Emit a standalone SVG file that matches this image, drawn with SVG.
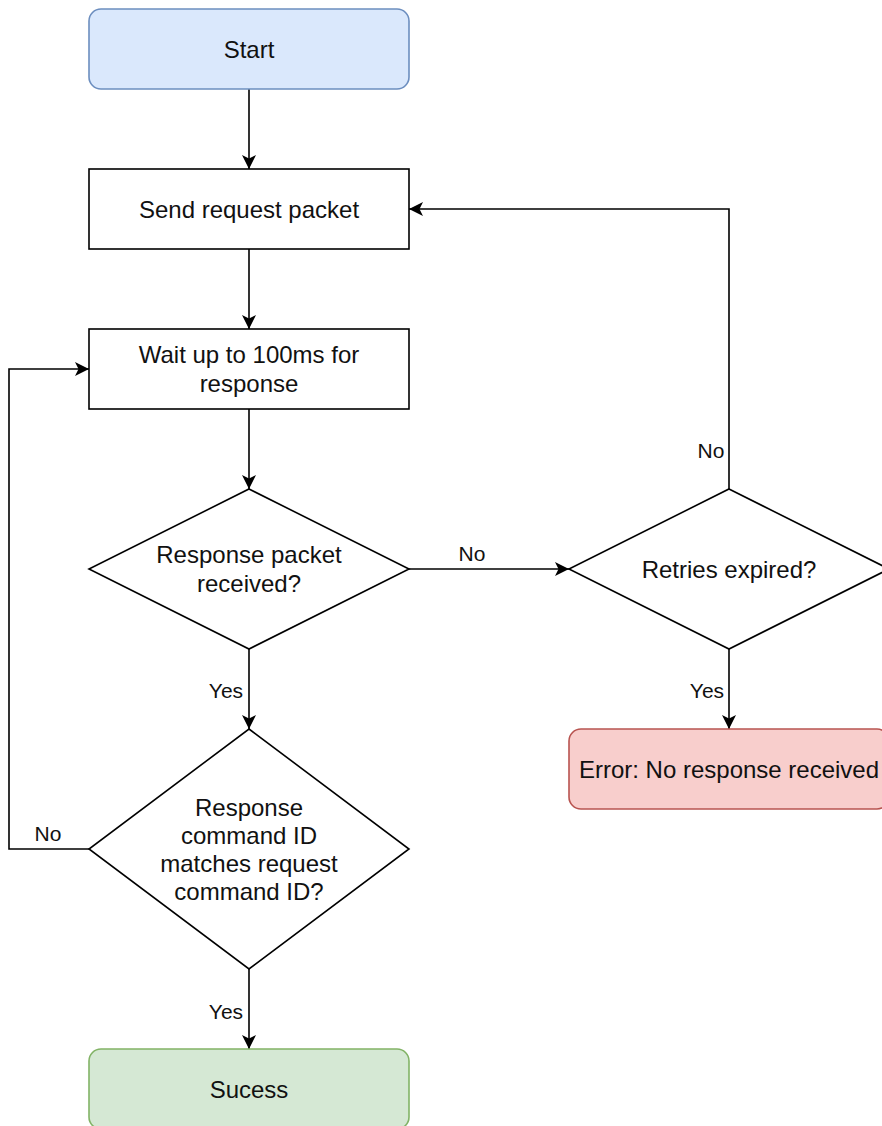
<svg xmlns="http://www.w3.org/2000/svg" width="882" height="1126" viewBox="0 0 882 1126">
<style>
.box{fill:#ffffff;stroke:#000;stroke-width:1.6}
.start{fill:#dae8fc;stroke:#6c8ebf;stroke-width:1.6}
.err{fill:#f8cecc;stroke:#b85450;stroke-width:1.6}
.ok{fill:#d5e8d4;stroke:#82b366;stroke-width:1.6}
.t{font-family:"Liberation Sans",Arial,sans-serif;font-size:24px;fill:#111;text-anchor:middle}
.lbl{font-family:"Liberation Sans",Arial,sans-serif;font-size:21px;fill:#111;text-anchor:middle}
.edge{fill:none;stroke:#000;stroke-width:1.6;marker-end:url(#arrow)}
</style>
<defs>
<marker id="arrow" markerUnits="userSpaceOnUse" markerWidth="16" markerHeight="16" viewBox="0 0 16 16" refX="15" refY="8" orient="auto">
<path d="M1,1 L15,8 L1,15 L4.5,8 Z" fill="#000"/>
</marker>
</defs>
<rect width="882" height="1126" fill="#ffffff"/>
<g id="connectors">
<path class="edge" d="M249,89 V169"/>
<path class="edge" d="M249,249 V329"/>
<path class="edge" d="M249,409 V489"/>
<path class="edge" d="M249,649 V729"/>
<path class="edge" d="M409,569 H569"/>
<path class="edge" d="M729,489 V209 H409"/>
<path class="edge" d="M729,649 V729"/>
<path class="edge" d="M89,849 H9 V369 H89"/>
<path class="edge" d="M249,969 V1049"/>
<text class="lbl" x="226" y="698">Yes</text>
<text class="lbl" x="472" y="561">No</text>
<text class="lbl" x="711" y="458">No</text>
<text class="lbl" x="707" y="698">Yes</text>
<text class="lbl" x="48" y="841">No</text>
<text class="lbl" x="226" y="1019">Yes</text>
</g>
<g id="start">
<rect class="start" x="89" y="9" width="320" height="80" rx="12" ry="12"/>
<text class="t" x="249" y="57.6">Start</text>
</g>
<g id="send">
<rect class="box" x="89" y="169" width="320" height="80"/>
<text class="t" x="249" y="217.6">Send request packet</text>
</g>
<g id="wait">
<rect class="box" x="89" y="329" width="320" height="80"/>
<text class="t" x="249" y="363.2">Wait up to 100ms for</text>
<text class="t" x="249" y="392">response</text>
</g>
<g id="received">
<polygon class="box" points="249,489 409,569 249,649 89,569"/>
<text class="t" x="249" y="563.2">Response packet</text>
<text class="t" x="249" y="592">received?</text>
</g>
<g id="retries">
<polygon class="box" points="729,489 889,569 729,649 569,569"/>
<text class="t" x="729" y="577.6">Retries expired?</text>
</g>
<g id="error">
<rect class="err" x="569" y="729" width="320" height="80" rx="12" ry="12"/>
<text class="t" x="729" y="777.6">Error: No response received</text>
</g>
<g id="match">
<polygon class="box" points="249,729 409,849 249,969 89,849"/>
<text class="t" x="249" y="815.5">Response</text>
<text class="t" x="249" y="843.8">command ID</text>
<text class="t" x="249" y="872">matches request</text>
<text class="t" x="249" y="900.3">command ID?</text>
</g>
<g id="success">
<rect class="ok" x="89" y="1049" width="320" height="80" rx="12" ry="12"/>
<text class="t" x="249" y="1097.6">Sucess</text>
</g>
</svg>
